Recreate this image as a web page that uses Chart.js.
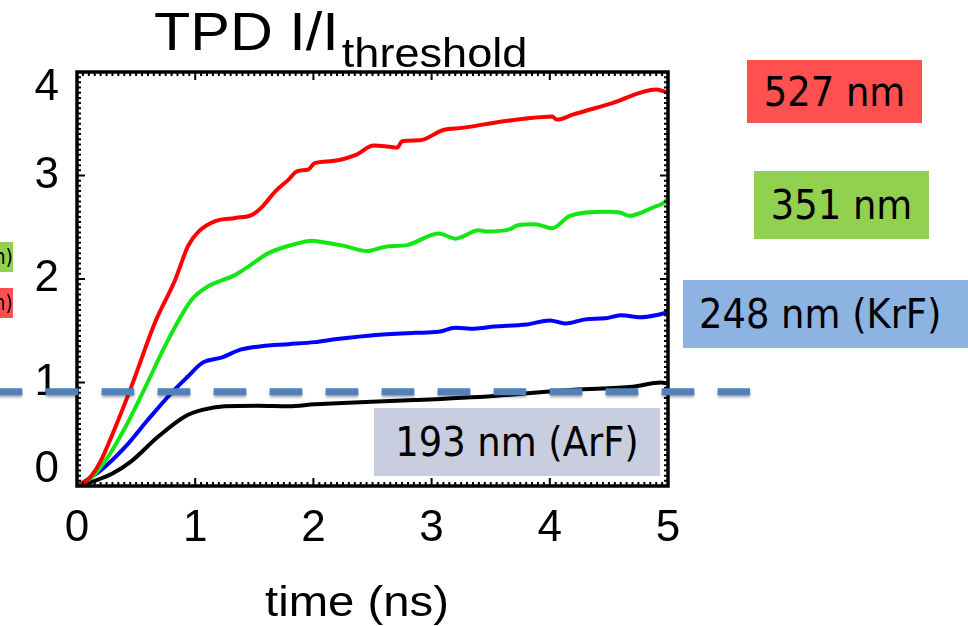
<!DOCTYPE html>
<html><head><meta charset="utf-8">
<script src="https://cdn.jsdelivr.net/npm/chart.js@4.4.1/dist/chart.umd.min.js"></script>
<style>
html,body{margin:0;padding:0;width:968px;height:626px;overflow:hidden;background:#fff;}
#wrap{position:relative;width:968px;height:626px;overflow:hidden;}
canvas{position:absolute;left:0;top:0;}
.box{position:absolute;display:flex;align-items:center;justify-content:center;font-family:"DejaVu Sans Condensed","DejaVu Sans",sans-serif;font-stretch:condensed;font-size:41px;color:#000;white-space:nowrap;}
.stub{position:absolute;display:flex;align-items:center;justify-content:flex-end;font-family:"DejaVu Sans Condensed","DejaVu Sans",sans-serif;font-stretch:condensed;font-size:21px;color:#000;white-space:nowrap;overflow:hidden;}
</style></head><body>
<div id="wrap">
<canvas id="c" width="968" height="626"></canvas>
<div class="box" style="left:747px;top:60px;width:175px;height:63px;background:#ff5050">527 nm</div>
<div class="box" style="left:754px;top:171px;width:175px;height:68px;background:#92d050">351 nm</div>
<div class="box" style="left:683px;top:280px;width:290px;height:68px;background:#8db3e2;justify-content:flex-start;padding-left:16px;box-sizing:border-box">248 nm (KrF)</div>
<div class="box" style="left:374px;top:408px;width:286px;height:68px;background:#c8cedf">193 nm (ArF)</div>
<div class="stub" style="left:-80px;top:242px;width:93px;height:30px;background:#92d050">nm)</div>
<div class="stub" style="left:-80px;top:288px;width:93px;height:30px;background:#ff5050">nm)</div>
</div>
<script>
// ---- data ----
const seriesLabels = ['527 nm', '351 nm', '248 nm (KrF)', '193 nm (ArF)'];
const seriesColors = ['#ff0000', '#14e614', '#0000ff', '#000000'];

const timeRed  = [0,0.10,0.20,0.30,0.46,0.66,0.83,0.94,1.03,1.17,1.34,1.48,1.56,1.68,1.79,1.86,1.96,2.01,2.16,2.36,2.51,2.63,2.71,2.75,2.90,3.10,3.26,3.53,3.80,4.02,4.06,4.20,4.53,4.90,5.0];
const tpdRed   = [0,0.07,0.24,0.50,0.96,1.58,1.99,2.32,2.46,2.56,2.59,2.62,2.69,2.85,2.96,3.04,3.06,3.12,3.14,3.20,3.29,3.28,3.27,3.33,3.34,3.44,3.46,3.51,3.55,3.57,3.54,3.59,3.70,3.83,3.80];

const timeGreen = [0,0.12,0.25,0.41,0.58,0.77,0.97,1.11,1.34,1.45,1.62,1.82,1.99,2.06,2.26,2.45,2.60,2.80,3.06,3.20,3.40,3.46,3.66,3.73,3.87,4.02,4.17,4.47,4.60,4.67,4.87,4.97,5.0];
const tpdGreen  = [0,0.08,0.26,0.57,0.96,1.41,1.80,1.93,2.04,2.12,2.25,2.33,2.37,2.36,2.32,2.27,2.31,2.33,2.44,2.39,2.47,2.46,2.48,2.52,2.53,2.49,2.61,2.65,2.64,2.61,2.69,2.74,2.78];

const timeBlue = [0,0.20,0.41,0.60,0.80,0.94,1.06,1.22,1.39,1.56,1.79,2.01,2.20,2.53,2.86,3.06,3.20,3.36,3.53,3.80,4.00,4.13,4.30,4.47,4.60,4.77,4.90,5.0];
const tpdBlue  = [0,0.15,0.38,0.64,0.90,1.06,1.19,1.24,1.32,1.35,1.37,1.39,1.42,1.46,1.48,1.49,1.53,1.52,1.54,1.56,1.60,1.57,1.61,1.62,1.65,1.63,1.65,1.68];

const timeBlack = [0,0.15,0.30,0.45,0.69,0.91,1.06,1.25,1.53,1.79,2.01,2.20,2.86,3.53,4.20,4.70,4.94,5.0];
const tpdBlack  = [0,0.05,0.12,0.23,0.48,0.67,0.735,0.77,0.775,0.77,0.79,0.80,0.83,0.87,0.93,0.96,1.00,0.99];

const thresholdLevel = 0.91;     // dashed reference line
const xRange = [0, 5];
const yRange = [0, 4];
const chartTitle = 'TPD I/I';
const chartTitleSub = 'threshold';
const xAxisTitle = 'time (ns)';

function pts(t, v) { return t.map((x, i) => ({x: x, y: v[i]})); }
const allTimes = [timeRed, timeGreen, timeBlue, timeBlack];
const allValues = [tpdRed, tpdGreen, tpdBlue, tpdBlack];

const datasets = seriesLabels.map((lab, i) => ({
  label: lab,
  data: pts(allTimes[i], allValues[i]),
  borderColor: seriesColors[i],
  borderWidth: 4,
  pointRadius: 0,
  cubicInterpolationMode: 'monotone',
  fill: false
}));

const tickFont = '44px "Liberation Sans", Arial, sans-serif';

const framePlugin = {
  id: 'frame',
  afterDatasetsDraw(chart) {
    const {ctx, chartArea: a, scales: {x, y}} = chart;
    ctx.save();
    ctx.strokeStyle = '#000';
    ctx.lineWidth = 2;
    ctx.beginPath();
    for (let i = 0; i <= 100; i++) {
      const v = xRange[0] + i * 0.05;
      const px = x.getPixelForValue(v);
      const len = (i % 20 === 0) ? 8 : 4;
      ctx.moveTo(px, a.bottom); ctx.lineTo(px, a.bottom - len);
      ctx.moveTo(px, a.top); ctx.lineTo(px, a.top + len);
    }
    for (let i = 0; i <= 80; i++) {
      const v = yRange[0] + i * 0.05;
      const py = y.getPixelForValue(v);
      const len = (i % 20 === 0) ? 8 : 4;
      ctx.moveTo(a.left, py); ctx.lineTo(a.left + len, py);
      ctx.moveTo(a.right, py); ctx.lineTo(a.right - len, py);
    }
    ctx.stroke();
    ctx.lineWidth = 3.5;
    ctx.strokeRect(a.left, a.top, a.right - a.left, a.bottom - a.top);

    // y tick labels from the library's ticks, kept inside the frame height
    ctx.fillStyle = '#000';
    ctx.font = tickFont;
    ctx.textAlign = 'right';
    ctx.textBaseline = 'middle';
    y.ticks.forEach(t => {
      let py = y.getPixelForValue(t.value);
      py = Math.min(Math.max(py, a.top + 16), a.bottom - 16);
      ctx.fillText(String(t.value), a.left - 18, py);
    });
    ctx.restore();
  },
  afterDraw(chart) {
    const {ctx, scales: {x, y}} = chart;
    ctx.save();
    const py = y.getPixelForValue(thresholdLevel);
    ctx.strokeStyle = '#4f81bd';
    ctx.lineWidth = 7;
    ctx.setLineDash([32.5, 23.5]);
    ctx.shadowColor = 'rgba(0,0,0,0.35)';
    ctx.shadowBlur = 3;
    ctx.shadowOffsetY = 2;
    ctx.beginPath();
    ctx.moveTo(-10.3, py);
    ctx.lineTo(750, py);
    ctx.stroke();
    ctx.restore();

    ctx.save();
    ctx.fillStyle = '#000';
    ctx.textBaseline = 'alphabetic';
    ctx.font = '54px "Liberation Sans", Arial, sans-serif';
    const w = ctx.measureText(chartTitle).width * 1.1;
    ctx.translate(154, 50); ctx.scale(1.1, 1);
    ctx.fillText(chartTitle, 0, 0);
    ctx.restore();
    ctx.save();
    ctx.fillStyle = '#000';
    ctx.font = '41px "Liberation Sans", Arial, sans-serif';
    ctx.translate(154 + w + 3, 67); ctx.scale(1.1, 1);
    ctx.fillText(chartTitleSub, 0, 0);
    ctx.restore();

    ctx.save();
    ctx.fillStyle = '#000';
    ctx.font = '43px "Liberation Sans", Arial, sans-serif';
    ctx.textAlign = 'center';
    ctx.translate(357, 616); ctx.scale(1.1, 1);
    ctx.fillText(xAxisTitle, 0, 0);
    ctx.restore();
  }
};

new Chart(document.getElementById('c'), {
  type: 'line',
  data: {datasets: datasets},
  options: {
    responsive: false,
    animation: false,
    devicePixelRatio: 1,
    layout: {padding: {left: 0, right: 300, top: 72, bottom: 0}},
    plugins: {legend: {display: false}, tooltip: {enabled: false}, title: {display: false}},
    scales: {
      x: {
        type: 'linear', min: xRange[0], max: xRange[1],
        grid: {display: false, drawTicks: false},
        border: {display: false},
        ticks: {stepSize: 1, color: '#000', padding: 16, maxRotation: 0, autoSkip: false,
                font: {family: '"Liberation Sans", Arial, sans-serif', size: 44}},
        afterFit(s) { s.height = 140; }
      },
      y: {
        type: 'linear', min: yRange[0], max: yRange[1],
        grid: {display: false, drawTicks: false},
        border: {display: false},
        ticks: {display: false, stepSize: 1},
        afterFit(s) { s.width = 77; }
      }
    }
  },
  plugins: [framePlugin]
});
</script>
</body></html>
